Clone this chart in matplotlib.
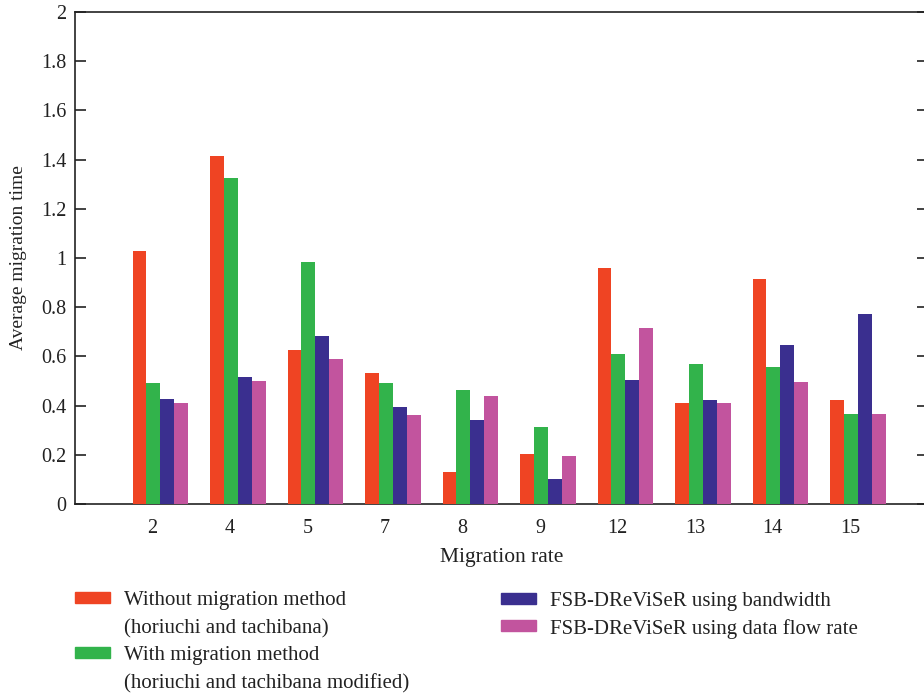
import matplotlib
matplotlib.use('Agg')
import matplotlib.pyplot as plt
import numpy as np
from matplotlib.patches import Rectangle

plt.rcParams['font.family'] = ['Liberation Serif', 'DejaVu Serif']

# Migration rates on the x axis
rates = ['2', '4', '5', '7', '8', '9', '12', '13', '14', '15']

# Average migration time for each method
without_mig = [1.03, 1.415, 0.626, 0.533, 0.13, 0.203, 0.959, 0.41, 0.915, 0.423]
with_mig = [0.492, 1.325, 0.984, 0.492, 0.463, 0.313, 0.61, 0.569, 0.557, 0.366]
fsb_bw = [0.427, 0.516, 0.683, 0.394, 0.341, 0.102, 0.504, 0.423, 0.646, 0.772]
fsb_flow = [0.41, 0.5, 0.589, 0.362, 0.44, 0.195, 0.715, 0.41, 0.496, 0.366]

series = [without_mig, with_mig, fsb_bw, fsb_flow]
labels = ['Without migration method\n(horiuchi and tachibana)',
          'With migration method\n(horiuchi and tachibana modified)',
          'FSB-DReViSeR using bandwidth',
          'FSB-DReViSeR using data flow rate']
colors = ['#EF4423', '#32B34B', '#3A2F8F', '#C2549E']

fig = plt.figure(figsize=(9.24, 6.96), dpi=100)
ax = fig.add_axes([0.0812, 0.2759, 0.9226, 0.7069])

x = np.arange(1, len(rates) + 1)
w = 0.18
start = -0.258
for i, (vals, c) in enumerate(zip(series, colors)):
    ax.bar(x + start + i * w, vals, width=w, align='edge', color=c, zorder=3)

ax.set_xlim(0, len(rates) + 1)
ax.set_ylim(0, 2)
ax.set_xticks(x)
ax.set_xticklabels(rates)
ax.set_yticks(np.arange(0, 2.01, 0.2))
ax.set_yticklabels(['0', '0.2', '0.4', '0.6', '0.8', '1', '1.2', '1.4', '1.6', '1.8', '2'])

ax.tick_params(axis='y', direction='in', length=8, width=1.2, left=True, right=True,
               labelsize=14.5, pad=6, colors='#222222')
ax.tick_params(axis='x', direction='in', length=8, width=1.2, top=True,
               labelsize=14.5, pad=11, colors='#222222')
ax.tick_params(axis='x', which='major', bottom=True, length=0)
ax.tick_params(axis='x', top=True)
for s in ax.spines.values():
    s.set_linewidth(1.2)
    s.set_color('#222222')

ax.set_xlabel('Migration rate', fontsize=15.5, color='#222222', labelpad=7)
ax.set_ylabel('Average migration time', fontsize=14, color='#222222', labelpad=10)

# legend, drawn by hand so the swatch lines up with the first text line
legend_pos = [(75, 597), (75, 652), (501, 598), (501, 625)]
for (px, py), lab, c in zip(legend_pos, labels, colors):
    fx = px / 924
    fy = 1 - py / 696
    fig.add_artist(Rectangle((fx, fy - 5.5 / 696), 35 / 924, 11 / 696,
                             transform=fig.transFigure, color=c))
    fig.text(fx + 49 / 924, fy + 6 / 696, lab, fontsize=15, va='top', ha='left',
             color='#222222', linespacing=1.65)

fig.savefig('out.png', dpi=100)
